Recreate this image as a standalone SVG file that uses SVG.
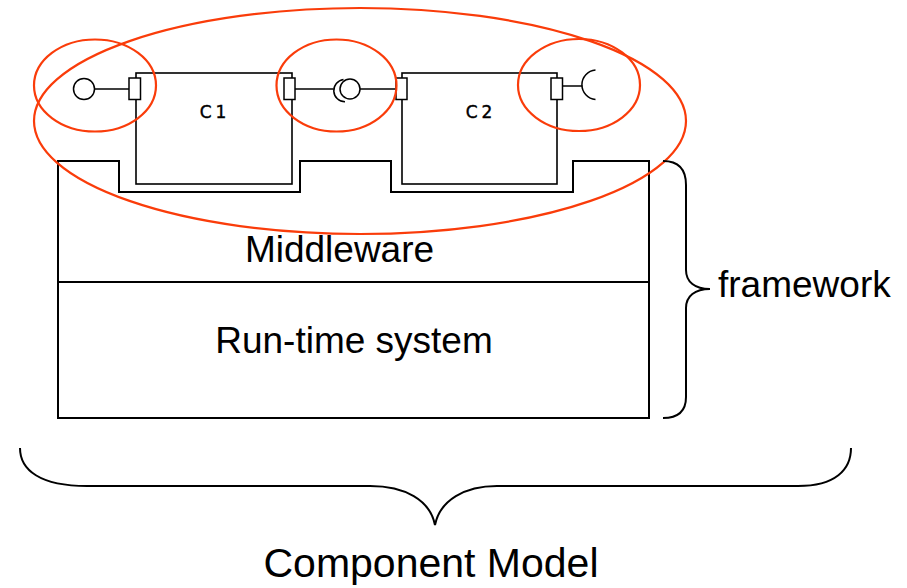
<svg xmlns="http://www.w3.org/2000/svg" width="907" height="588" viewBox="0 0 907 588">
<style>
.blk{fill:none;stroke:#000;stroke-width:2}
.box{fill:none;stroke:#000;stroke-width:1.6}
.port{fill:#fff;stroke:#000;stroke-width:1.5}
.ln{fill:none;stroke:#000;stroke-width:1.5}
.red{fill:none;stroke:#FA3C0A;stroke-width:2.2}
.big{font-family:"Liberation Sans",Arial,sans-serif;font-size:37px;fill:#000}
.cl{font-family:"DejaVu Sans","Liberation Sans",sans-serif;font-size:17px;fill:#000;stroke:#000;stroke-width:0.4;letter-spacing:4px}
</style>
<rect width="907" height="588" fill="#fff"/>
<g id="framework-base">
<path class="blk" d="M58,418 L58,161 L119,161 L119,192 L300,192 L300,161 L391,161 L391,192 L573,192 L573,161 L649,161 L649,418 Z"/>
<line class="blk" x1="58" y1="282" x2="649" y2="282"/>
</g>
<g id="middleware"><text class="big" x="339.5" y="262" text-anchor="middle">Middleware</text></g>
<g id="runtime"><text class="big" x="354" y="353" text-anchor="middle">Run-time system</text></g>
<g id="c1">
<rect class="box" x="136" y="73" width="156" height="111"/>
<text class="cl" x="215" y="118" text-anchor="middle">C1</text>
<rect class="port" x="129" y="78" width="11.5" height="21.5"/>
<rect class="port" x="284" y="78" width="11" height="21.5"/>
</g>
<g id="c2">
<rect class="box" x="402" y="73" width="155" height="111"/>
<text class="cl" x="481" y="118" text-anchor="middle">C2</text>
<rect class="port" x="396" y="78" width="11" height="21.5"/>
<rect class="port" x="551" y="78" width="11.5" height="21.5"/>
</g>
<g id="connectors">
<circle class="ln" cx="84" cy="89" r="10.5"/>
<line class="ln" x1="94.5" y1="89" x2="129" y2="89"/>
<line class="ln" x1="295" y1="89" x2="333.5" y2="89"/>
<path class="ln" d="M343.5,79.5 A11.2,11.2 0 0 0 345,101.8"/>
<circle class="ln" cx="350" cy="89" r="10"/>
<line class="ln" x1="360" y1="89" x2="396" y2="89"/>
<line class="ln" x1="562.5" y1="86" x2="582.5" y2="86"/>
<path class="ln" d="M595.5,70 A14.8,14.8 0 0 0 595.5,99.5"/>
</g>
<g id="highlights">
<ellipse class="red" cx="95" cy="85.5" rx="61" ry="46"/>
<ellipse class="red" cx="336.5" cy="85.5" rx="60" ry="46"/>
<ellipse class="red" cx="579" cy="85" rx="61" ry="46"/>
<ellipse class="red" cx="360" cy="121" rx="326" ry="113"/>
</g>
<g id="framework-brace">
<path class="blk" d="M663,161 C678,161 686,168 686,185 L686,270 C686,282 695,289 710,289 C695,289 686,296 686,308 L686,397 C686,411 678,418 663,418"/>
<text class="big" x="718" y="297">framework</text>
</g>
<g id="component-model-brace">
<path class="blk" d="M20,448 C20,470 40,486 87,486 L370,486 C405,486 430,500 435,525 C440,500 465,486 497,486 L798,486 C835,486 851,470 851,448"/>
<text class="big" x="431" y="577" text-anchor="middle" style="font-size:41px">Component Model</text>
</g>
</svg>
